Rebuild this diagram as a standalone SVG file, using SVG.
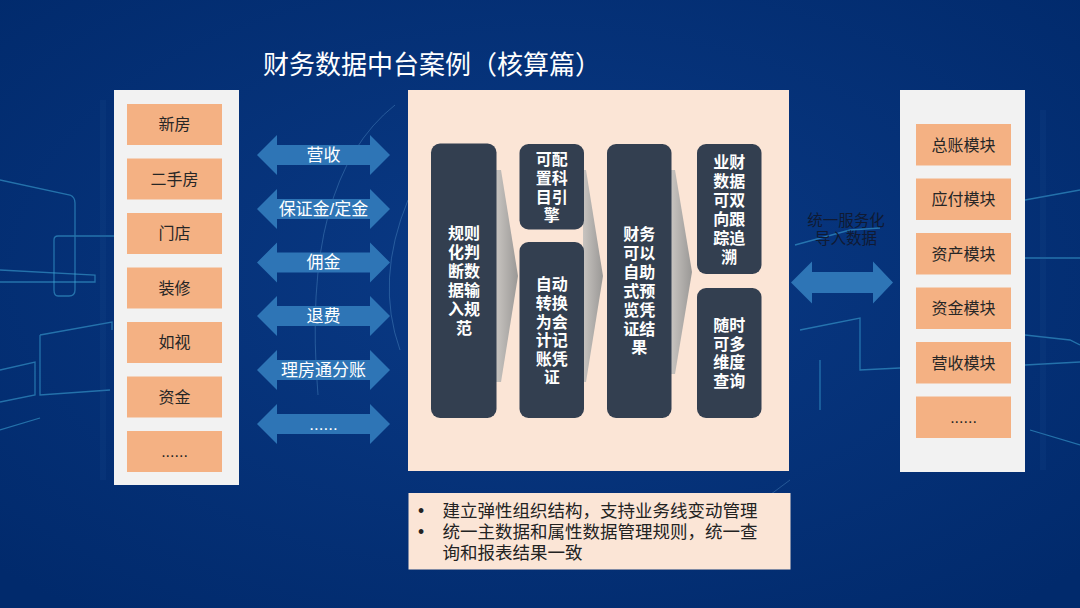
<svg xmlns="http://www.w3.org/2000/svg" width="1080" height="608" viewBox="0 0 1080 608">
<defs>
<radialGradient id="bg" cx="0.5" cy="0.45" r="0.7">
<stop offset="0" stop-color="#0a3a86"/>
<stop offset="1" stop-color="#012a6c"/>
</radialGradient>
<linearGradient id="chev" x1="0" y1="0" x2="1" y2="0">
<stop offset="0" stop-color="#c8c4c0"/>
<stop offset="1" stop-color="#9a9896"/>
</linearGradient>
<path id="darr" d="M0,0 L20,-20 L20,-10 L113,-10 L113,-20 L133,0 L113,20 L113,10 L20,10 L20,20 Z"/>
<style>
text{font-family:"Liberation Sans","Noto Sans CJK SC",sans-serif}
.panel{fill:#f2f2f2}
.item{fill:#f4b183}
.itxt{font-size:16px;fill:#262626;text-anchor:middle;dominant-baseline:central}
.arr{fill:#2e75b6}
.atxt{font-size:17px;fill:#ffffff;text-anchor:middle;dominant-baseline:central}
.dbox{fill:#333f50}
.dtxt{font-size:16px;font-weight:bold;fill:#ffffff;text-anchor:middle;dominant-baseline:central}
.deco{fill:none;stroke:#3fa9d8;stroke-width:1.3;opacity:0.55}
.deco2{fill:none;stroke:#6fb4e0;stroke-width:1;opacity:0.3}
</style>
</defs>
<rect width="1080" height="608" fill="url(#bg)"/>
<g id="background-decor">
<path class="deco" d="M0,180 L70,195 Q75,197 75,203 L75,290 Q75,296 69,296 L58,296 Q54,296 54,290 L54,240 Q54,236 58,236 L115,236"/>
<path class="deco" d="M0,270 L95,275 L95,282 L0,282"/>
<path class="deco" d="M0,370 L35,362 L35,395 L0,402"/>
<path class="deco" d="M40,335 L112,322 L112,330 M40,335 L40,395 L110,390"/>
<path class="deco" d="M0,430 L40,418"/>
<path class="deco" d="M1025,200 L1080,190 M1025,258 L1080,258 M1025,335 L1070,340 L1080,345 M1025,365 L1080,362 M1030,430 L1080,445"/>
<path class="deco" d="M795,245 L850,230 L880,228 M800,330 L860,318 L860,370 L900,368 M820,360 L820,410"/>
<path class="deco2" d="M395,105 Q300,180 318,395 M408,200 Q375,280 400,350"/>
<path class="deco2" d="M790,480 Q740,520 660,560"/>
<rect x="100" y="100" width="6" height="380" fill="#2a5aa0" opacity="0.12"/>
<rect x="1040" y="110" width="6" height="360" fill="#2a5aa0" opacity="0.12"/>
</g>
<text id="title" x="263" y="74" font-size="26" fill="#ffffff">财务数据中台案例（核算篇）</text>
<g id="left-panel">
<rect class="panel" x="114" y="90" width="125" height="395"/>
<g id="src-xinfang"><rect class="item" x="127" y="104" width="95" height="41"/><text class="itxt" x="174.5" y="124.5">新房</text></g>
<g id="src-ershoufang"><rect class="item" x="127" y="158.5" width="95" height="41"/><text class="itxt" x="174.5" y="179">二手房</text></g>
<g id="src-mendian"><rect class="item" x="127" y="213" width="95" height="41"/><text class="itxt" x="174.5" y="233.5">门店</text></g>
<g id="src-zhuangxiu"><rect class="item" x="127" y="267.5" width="95" height="41"/><text class="itxt" x="174.5" y="288">装修</text></g>
<g id="src-rushi"><rect class="item" x="127" y="322" width="95" height="41"/><text class="itxt" x="174.5" y="342.5">如视</text></g>
<g id="src-zijin"><rect class="item" x="127" y="376.5" width="95" height="41"/><text class="itxt" x="174.5" y="397">资金</text></g>
<g id="src-more"><rect class="item" x="127" y="431" width="95" height="41"/><text class="itxt" x="174.5" y="451.5">......</text></g>
</g>
<g id="connectors">
<g id="arr-yingshou"><use href="#darr" class="arr" x="257" y="155"/><text class="atxt" x="323.5" y="155">营收</text></g>
<g id="arr-baozhengjin"><use href="#darr" class="arr" x="257" y="209"/><text class="atxt" x="323.5" y="209">保证金/定金</text></g>
<g id="arr-yongjin"><use href="#darr" class="arr" x="257" y="262.5"/><text class="atxt" x="323.5" y="262.5">佣金</text></g>
<g id="arr-tuifei"><use href="#darr" class="arr" x="257" y="316"/><text class="atxt" x="323.5" y="316">退费</text></g>
<g id="arr-lifangtong"><use href="#darr" class="arr" x="257" y="370"/><text class="atxt" x="323.5" y="370">理房通分账</text></g>
<g id="arr-more"><use href="#darr" class="arr" x="257" y="424"/><text class="atxt" x="323.5" y="424">......</text></g>
<g id="arr-right">
<path class="arr" d="M791,282.5 L812,261.5 L812,272 L873,272 L873,261.5 L893,282.5 L873,303.5 L873,293 L812,293 L812,303.5 Z"/>
<text x="846" y="220" font-size="15.5" fill="#101a33" text-anchor="middle" dominant-baseline="central">统一服务化</text>
<text x="846" y="238.5" font-size="15.5" fill="#101a33" text-anchor="middle" dominant-baseline="central">导入数据</text>
</g>
</g>
<g id="center-panel">
<rect x="408" y="90" width="381" height="381" fill="#fbe5d6"/>
<polygon points="496,170 501,170 518,276 501,382 496,382" fill="url(#chev)"/>
<polygon points="583,170 586,170 603,276 586,382 583,382" fill="url(#chev)"/>
<polygon points="671,170 675,170 692,272 675,374 671,374" fill="url(#chev)"/>
<g id="step-rules">
<rect class="dbox" x="431" y="143.5" width="65.5" height="274.5" rx="9"/>
<text class="dtxt"><tspan x="464" y="233">规则</tspan><tspan x="464" y="252">化判</tspan><tspan x="464" y="271">断数</tspan><tspan x="464" y="290">据输</tspan><tspan x="464" y="309">入规</tspan><tspan x="464" y="328">范</tspan></text>
</g>
<g id="step-engine">
<rect class="dbox" x="519.5" y="144" width="64.5" height="85.5" rx="9"/>
<text class="dtxt"><tspan x="551.7" y="158.5">可配</tspan><tspan x="551.7" y="177.5">置科</tspan><tspan x="551.7" y="196.5">目引</tspan><tspan x="551.7" y="215">擎</tspan></text>
</g>
<g id="step-convert">
<rect class="dbox" x="519.5" y="242" width="64.5" height="176" rx="9"/>
<text class="dtxt"><tspan x="551.7" y="284">自动</tspan><tspan x="551.7" y="303">转换</tspan><tspan x="551.7" y="322">为会</tspan><tspan x="551.7" y="340">计记</tspan><tspan x="551.7" y="358.5">账凭</tspan><tspan x="551.7" y="377">证</tspan></text>
</g>
<g id="step-preview">
<rect class="dbox" x="607" y="144" width="64.5" height="274" rx="9"/>
<text class="dtxt"><tspan x="639.3" y="234">财务</tspan><tspan x="639.3" y="253">可以</tspan><tspan x="639.3" y="272">自助</tspan><tspan x="639.3" y="291">式预</tspan><tspan x="639.3" y="310">览凭</tspan><tspan x="639.3" y="328.5">证结</tspan><tspan x="639.3" y="347">果</tspan></text>
</g>
<g id="step-trace">
<rect class="dbox" x="697" y="144" width="64.5" height="130" rx="9"/>
<text class="dtxt"><tspan x="729.3" y="162">业财</tspan><tspan x="729.3" y="181">数据</tspan><tspan x="729.3" y="200">可双</tspan><tspan x="729.3" y="219">向跟</tspan><tspan x="729.3" y="238">踪追</tspan><tspan x="729.3" y="257">溯</tspan></text>
</g>
<g id="step-query">
<rect class="dbox" x="697" y="288" width="64.5" height="130" rx="9"/>
<text class="dtxt"><tspan x="729.3" y="325">随时</tspan><tspan x="729.3" y="343.5">可多</tspan><tspan x="729.3" y="362">维度</tspan><tspan x="729.3" y="380.5">查询</tspan></text>
</g>
</g>
<g id="right-panel">
<rect class="panel" x="900" y="90" width="125" height="382"/>
<g id="mod-zongzhang"><rect class="item" x="916" y="124" width="95" height="41.5"/><text class="itxt" x="963.5" y="145">总账模块</text></g>
<g id="mod-yingfu"><rect class="item" x="916" y="178.5" width="95" height="41.5"/><text class="itxt" x="963.5" y="199.5">应付模块</text></g>
<g id="mod-zichan"><rect class="item" x="916" y="233" width="95" height="41.5"/><text class="itxt" x="963.5" y="254">资产模块</text></g>
<g id="mod-zijin"><rect class="item" x="916" y="287.5" width="95" height="41.5"/><text class="itxt" x="963.5" y="308.5">资金模块</text></g>
<g id="mod-yingshou"><rect class="item" x="916" y="342" width="95" height="41.5"/><text class="itxt" x="963.5" y="363">营收模块</text></g>
<g id="mod-more"><rect class="item" x="916" y="396.5" width="95" height="41.5"/><text class="itxt" x="963.5" y="417.5">......</text></g>
</g>
<g id="notes">
<rect x="408.5" y="493" width="382" height="76.5" fill="#fbe5d6"/>
<g font-size="17.5" fill="#222222">
<text x="418" y="516.5">•</text>
<text x="442.5" y="516.5">建立弹性组织结构，支持业务线变动管理</text>
<text x="418" y="538">•</text>
<text x="442.5" y="538">统一主数据和属性数据管理规则，统一查</text>
<text x="442.5" y="559">询和报表结果一致</text>
</g>
</g>
</svg>
